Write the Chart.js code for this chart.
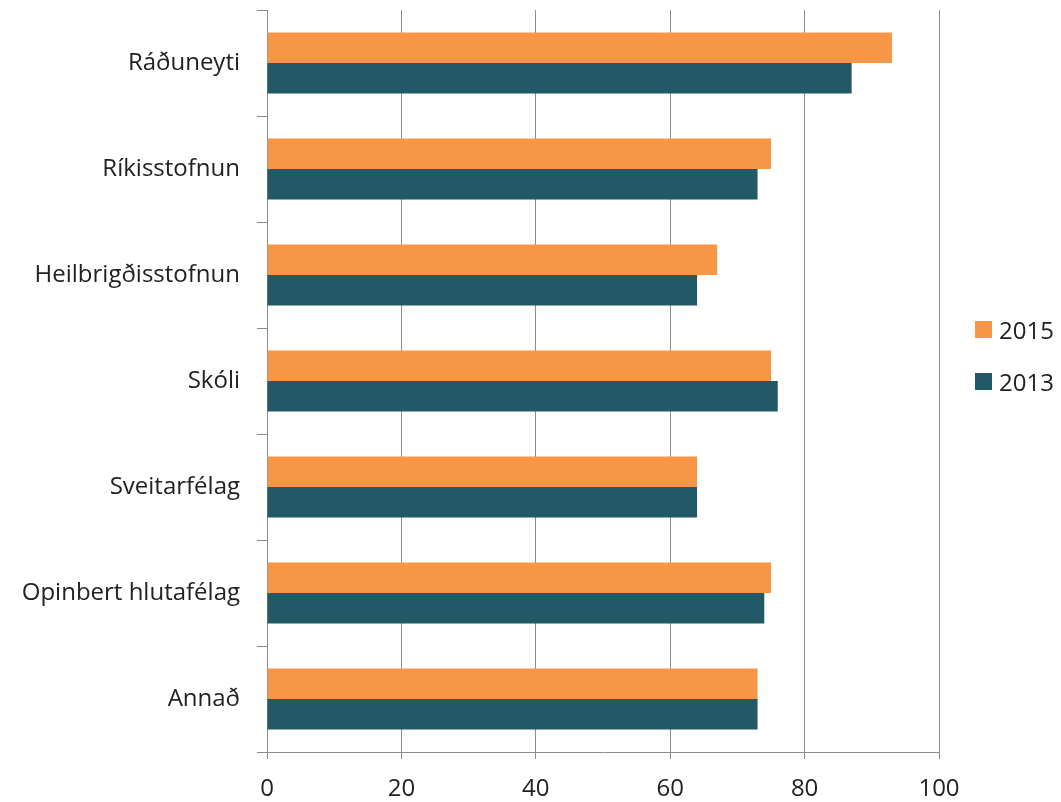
<!DOCTYPE html>
<html>
<head>
<meta charset="utf-8">
<script src="https://cdn.jsdelivr.net/npm/chart.js@4/dist/chart.umd.min.js"></script>
<style>
  body { margin: 0; background: #fff; }
  #wrap { position: relative; width: 1061px; height: 802px; }
  #legend { position: absolute; left: 975px; top: 313px; font-family: "Open Sans", sans-serif; font-size: 24px; color: #222; }
  #legend div { height: 52px; display: flex; align-items: flex-start; }
  #legend span.box { display: inline-block; width: 17px; height: 17px; margin: 8px 7px 0 0; }
</style>
</head>
<body>
<div id="wrap">
  <canvas id="barChart" width="1061" height="802"></canvas>
  <div id="legend"></div>
</div>
<script>
// categories and values
const categories = ["Ráðuneyti", "Ríkisstofnun", "Heilbrigðisstofnun", "Skóli", "Sveitarfélag", "Opinbert hlutafélag", "Annað"];
const values2015 = [93, 75, 67, 75, 64, 75, 73];
const values2013 = [87, 73, 64, 76, 64, 74, 73];
const xTicks = [0, 20, 40, 60, 80, 100];

const orange = "#F79646";
const teal = "#215967";
const gridGray = "#8c8c8c";

const chart = new Chart("barChart", {
  type: "bar",
  data: {
    labels: categories,
    datasets: [
      { label: "2015", data: values2015, backgroundColor: orange, barPercentage: 1, categoryPercentage: 0.575 },
      { label: "2013", data: values2013, backgroundColor: teal, barPercentage: 1, categoryPercentage: 0.575 }
    ]
  },
  options: {
    indexAxis: "y",
    responsive: false,
    animation: false,
    layout: { padding: { top: 10, right: 122, bottom: 0, left: 0 } },
    plugins: { legend: { display: false }, tooltip: { enabled: false } },
    scales: {
      x: {
        min: 0, max: 100,
        afterBuildTicks: (s) => { s.ticks = xTicks.map(v => ({ value: v })); },
        afterFit: (s) => { s.height = 50; s.paddingLeft = 0; s.paddingRight = 0; },
        grid: { color: gridGray, lineWidth: 1, tickLength: 7 },
        border: { color: gridGray },
        ticks: { color: "#222", padding: 16, font: { family: "Open Sans", size: 24 } }
      },
      y: {
        afterFit: (s) => { s.width = 267; s.paddingTop = 0; s.paddingBottom = 0; },
        grid: { drawOnChartArea: false, color: gridGray, tickLength: 10, offset: true },
        border: { color: gridGray },
        ticks: { color: "#222", padding: 17, font: { family: "Open Sans", size: 24 } }
      }
    }
  }
});

// legend, 2015 first
const leg = document.getElementById("legend");
chart.data.datasets.forEach(ds => {
  const row = document.createElement("div");
  row.innerHTML = '<span class="box" style="background:' + ds.backgroundColor + '"></span>' + ds.label;
  leg.appendChild(row);
});
</script>
</body>
</html>
